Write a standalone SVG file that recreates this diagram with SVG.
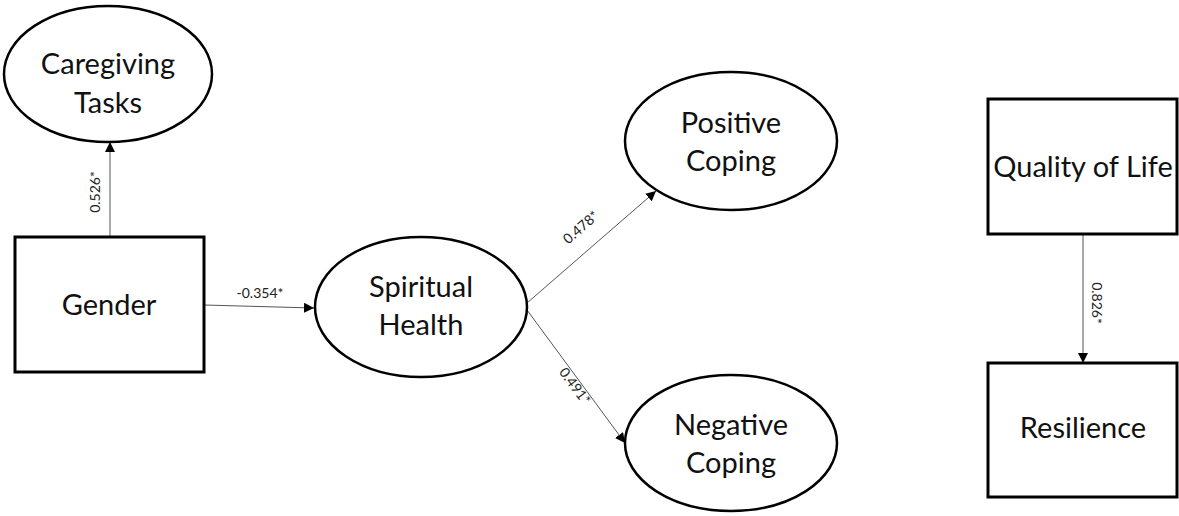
<svg xmlns="http://www.w3.org/2000/svg" width="1179" height="516" viewBox="0 0 1179 516">
<defs>
<style>
.node{fill:#fff;stroke:#000;stroke-width:2.5}
.box{fill:#fff;stroke:#000;stroke-width:3}
.t{font-family:Lato,"Open Sans","Liberation Sans",sans-serif;font-size:29px;fill:#111;text-anchor:middle}
.lbl{font-family:Lato,"Open Sans","Liberation Sans",sans-serif;font-size:14px;fill:#222;text-anchor:middle}
.c{stroke:#555;stroke-width:1;fill:none;marker-end:url(#ah)}
</style>
<marker id="ah" viewBox="0 0 10 10" refX="10" refY="5" markerWidth="10" markerHeight="10" markerUnits="userSpaceOnUse" orient="auto">
<path d="M0,0 L10,5 L0,10 z" fill="#000"/>
</marker>
</defs>
<rect width="1179" height="516" fill="#fff"/>
<g id="connectors">
<line class="c" x1="110" y1="237" x2="110" y2="142"/>
<line class="c" x1="204" y1="305" x2="314" y2="308"/>
<line class="c" x1="527" y1="303" x2="656" y2="191"/>
<line class="c" x1="527" y1="310" x2="625" y2="443"/>
<line class="c" x1="1083" y1="234" x2="1083" y2="363"/>
<text class="lbl" transform="translate(100,192) rotate(-90)">0.526*</text>
<text class="lbl" x="260" y="298">-0.354*</text>
<text class="lbl" transform="translate(584,231) rotate(-41)">0.478*</text>
<text class="lbl" transform="translate(571,389) rotate(53)">0.491*</text>
<text class="lbl" transform="translate(1092,303) rotate(90)">0.826*</text>
</g>
<g id="caregiving">
<ellipse class="node" cx="108" cy="74" rx="104" ry="68"/>
<text class="t" x="108" y="74">Caregiving</text>
<text class="t" x="108" y="113">Tasks</text>
</g>
<g id="gender">
<rect class="box" x="15" y="237" width="189" height="135"/>
<text class="t" x="109" y="315">Gender</text>
</g>
<g id="spiritual">
<ellipse class="node" cx="421" cy="307" rx="106" ry="70"/>
<text class="t" x="421" y="297">Spiritual</text>
<text class="t" x="421" y="335">Health</text>
</g>
<g id="positive">
<ellipse class="node" cx="731" cy="141" rx="106" ry="69"/>
<text class="t" x="731" y="133">Positive</text>
<text class="t" x="731" y="171">Coping</text>
</g>
<g id="negative">
<ellipse class="node" cx="731" cy="443" rx="106" ry="68"/>
<text class="t" x="731" y="435">Negative</text>
<text class="t" x="731" y="473">Coping</text>
</g>
<g id="qol">
<rect class="box" x="988" y="99" width="189" height="135"/>
<text class="t" x="1083" y="177">Quality of Life</text>
</g>
<g id="resilience">
<rect class="box" x="988" y="363" width="189" height="134"/>
<text class="t" x="1083" y="438">Resilience</text>
</g>
</svg>
